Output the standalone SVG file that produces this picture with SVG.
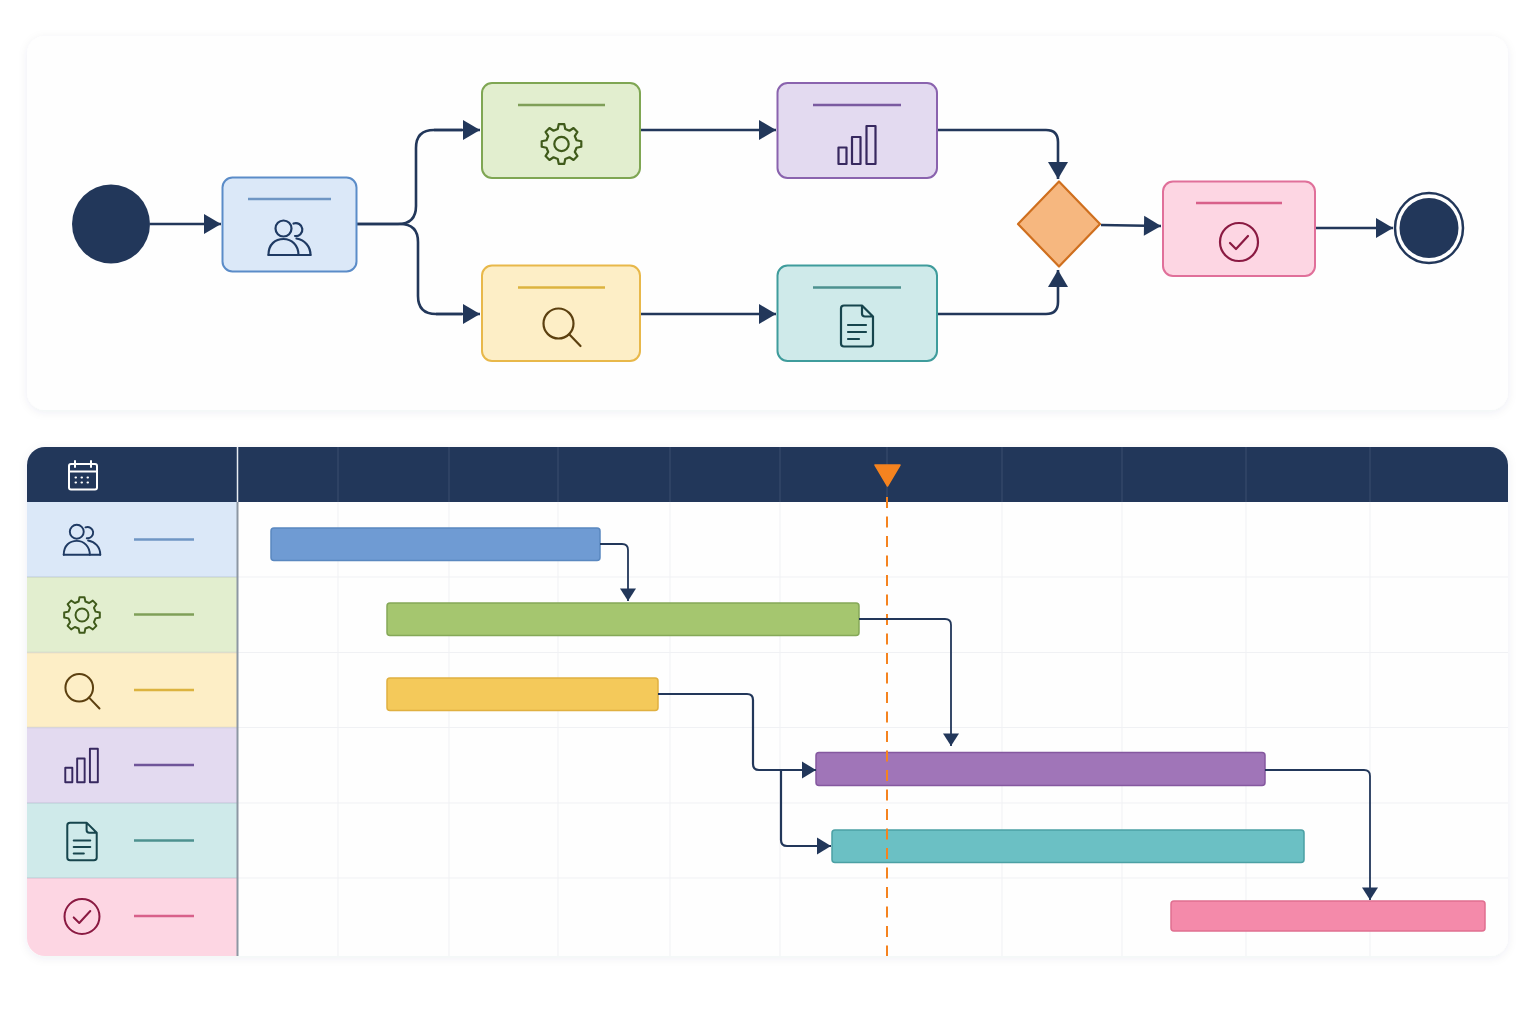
<svg xmlns="http://www.w3.org/2000/svg" xmlns:xlink="http://www.w3.org/1999/xlink" width="1536" height="1024" viewBox="0 0 1536 1024">
<style>
.panel{fill:#fefefe;filter:url(#sh)}
.ic{fill:none;stroke:currentColor;stroke-width:2.2;stroke-linejoin:round;stroke-linecap:round}
.node{stroke-width:2}
.tl{stroke-width:2.6;stroke-linecap:butt}
.ll{stroke-width:2.4}
.conn{fill:none;stroke:#22375a;stroke-width:2.6;marker-end:url(#ah)}
.plain{fill:none;stroke:#22375a;stroke-width:2.6}
.gconn{fill:none;stroke:#22375a;stroke-width:1.8;marker-end:url(#as)}
.gconnb{fill:none;stroke:#22375a;stroke-width:2.2;marker-end:url(#ah2)}
.grid{stroke:#f0f1f4;stroke-width:1}
.hgrid{stroke:#3a4f6e;stroke-width:1}
.bar{stroke-width:1.5}
.blue{fill:#dbe8f8;stroke:#5b8cc8;color:#1f3a63}
.green{fill:#e2eecf;stroke:#7fa653;color:#3f5a1a}
.yellow{fill:#fdeec6;stroke:#e8b84a;color:#5c4010}
.purple{fill:#e3daf0;stroke:#8a63ae;color:#37285f}
.teal{fill:#cfeaea;stroke:#3f9c9c;color:#17454d}
.pink{fill:#fdd6e3;stroke:#e0709a;color:#8a1a42}
</style>
<defs>
<filter id="sh" x="-5%" y="-10%" width="110%" height="120%"><feDropShadow dx="0" dy="2" stdDeviation="5" flood-color="#1f3a63" flood-opacity="0.07"/></filter>
<clipPath id="gc"><rect x="27" y="447" width="1481" height="509" rx="18"/></clipPath>
<marker id="ah" markerUnits="userSpaceOnUse" markerWidth="20" markerHeight="24" refX="18" refY="11" orient="auto"><path d="M1,1L18,11L1,21Z" fill="#22375a"/></marker>
<marker id="ah2" markerUnits="userSpaceOnUse" markerWidth="18" markerHeight="20" refX="15" refY="9" orient="auto"><path d="M1,0.500L15,9L1,17.500Z" fill="#22375a"/></marker>
<marker id="as" markerUnits="userSpaceOnUse" markerWidth="16" markerHeight="18" refX="13" refY="8.500" orient="auto"><path d="M0.500,0.500L13,8.500L0.500,16.500Z" fill="#22375a"/></marker>
<g id="i-users" class="ic"><circle cx="-6" cy="-9.500" r="8"/><path d="M4,-14.500a6.500,6.500 0 1 1 1.500,12.500"/><path d="M-21,17C-21,6 -14,1 -6,1C2,1 9,7 9,17"/><path d="M7,0.500C15,2 21,8 21,17"/><path d="M-21,17H21"/></g>
<g id="i-gear" class="ic"><path d="M15.04,-3.75L19.8,-2.78L19.8,2.78L15.04,3.75L13.29,7.98L15.97,12.04L12.04,15.97L7.98,13.29L3.75,15.04L2.78,19.8L-2.78,19.8L-3.75,15.04L-7.98,13.29L-12.04,15.97L-15.97,12.04L-13.29,7.98L-15.04,3.75L-19.8,2.78L-19.8,-2.78L-15.04,-3.75L-13.29,-7.98L-15.97,-12.04L-12.04,-15.97L-7.98,-13.29L-3.75,-15.04L-2.78,-19.8L2.78,-19.8L3.75,-15.04L7.98,-13.29L12.04,-15.97L15.97,-12.04L13.29,-7.98Z"/><circle r="7.200"/></g>
<g id="i-search" class="ic"><circle cx="-3" cy="-3.500" r="15"/><path d="M7.700,7.200L19,19"/></g>
<g id="i-bars" class="ic"><rect x="-19" y="2.500" width="8" height="16.500"/><rect x="-5.500" y="-8" width="8.500" height="27"/><rect x="9" y="-19" width="9" height="38"/></g>
<g id="i-doc" class="ic"><path d="M-16,-17.500a3,3 0 0 1 3,-3H5L16,-9.500V17.500a3,3 0 0 1 -3,3H-13a3,3 0 0 1 -3,-3ZM5,-20.500V-12.500a3,3 0 0 0 3,3H16M-9,-1H9M-9,6H9M-9,13H2"/></g>
<g id="i-check" class="ic"><circle r="19"/><path d="M-9,1L-3,7L9,-6"/></g>
</defs>
<rect width="1536" height="1024" fill="#ffffff"/>
<rect class="panel" x="27" y="36" width="1481" height="374" rx="18"/>
<rect class="panel" x="27" y="447" width="1481" height="509" rx="18"/>

<g id="flow-connectors">
<path class="conn" d="M150,224H221"/>
<path class="plain" d="M357,224H398Q416,224 416,206V148Q416,130 434,130H462"/>
<path class="conn" d="M434,130H480"/>
<path class="plain" d="M357,224H400Q418,224 418,242V296Q418,314 436,314H462"/>
<path class="conn" d="M436,314H480"/>
<path class="conn" d="M640,130H776"/>
<path class="conn" d="M640,314H776"/>
<path class="conn" d="M937,130H1046Q1058,130 1058,142V179"/>
<path class="conn" d="M937,314H1046Q1058,314 1058,302V270"/>
<path class="conn" d="M1101,225L1161,226"/>
<path class="conn" d="M1315,228H1393"/>
</g>

<g id="start"><ellipse cx="111" cy="224" rx="39" ry="39.500" fill="#22375a"/></g>
<g id="task-users"><rect class="node blue" x="222.500" y="177.500" width="134" height="94" rx="10"/><path class="tl" stroke="#6f96c4" d="M248,199H331"/><use href="#i-users" x="289.500" y="238" style="color:#1f3a63"/></g>
<g id="task-gear"><rect class="node green" x="482" y="83" width="158" height="95" rx="10"/><path class="tl" stroke="#7f9f58" d="M518,105H605"/><use href="#i-gear" x="561.500" y="144" style="color:#3f5a1a"/></g>
<g id="task-search"><rect class="node yellow" x="482" y="265.500" width="158" height="95.500" rx="10"/><path class="tl" stroke="#dcb33f" d="M518,287.500H605"/><use href="#i-search" x="561.500" y="327" style="color:#5c4010"/></g>
<g id="task-bars"><rect class="node purple" x="777.500" y="83" width="159.500" height="95" rx="10"/><path class="tl" stroke="#7a5aa0" d="M813,105H901"/><use href="#i-bars" x="857.500" y="145" style="color:#37285f"/></g>
<g id="task-doc"><rect class="node teal" x="777.500" y="265.500" width="159.500" height="95.500" rx="10"/><path class="tl" stroke="#4d918f" d="M813,287.500H901"/><use href="#i-doc" x="857" y="326" style="color:#17454d"/></g>
<g id="gateway"><path d="M1059,181.500L1100,224L1059,266.500L1018,224Z" fill="#f6b77f" stroke="#cf6f1e" stroke-width="2.200" stroke-linejoin="round"/></g>
<g id="task-check"><rect class="node pink" x="1163" y="181.500" width="152" height="94.500" rx="10"/><path class="tl" stroke="#d8608a" d="M1196,203H1282"/><use href="#i-check" x="1239" y="242" style="color:#8a1a42"/></g>
<g id="end"><ellipse cx="1429" cy="228" rx="34" ry="35" fill="#ffffff" stroke="#22375a" stroke-width="2.500"/><ellipse cx="1429" cy="228" rx="29.500" ry="30" fill="#22375a"/></g>

<g id="gantt-grid">
<path class="grid" d="M238,577H1508M238,652.500H1508M238,727.500H1508M238,803H1508M238,878H1508M338,502V956M449,502V956M558,502V956M670,502V956M780,502V956M1002,502V956M1122,502V956M1246,502V956M1370,502V956"/>
</g>

<g id="gantt-header" clip-path="url(#gc)">
<rect x="27" y="447" width="1481" height="55" fill="#22375a"/>
<path class="hgrid" d="M338,447V502M449,447V502M558,447V502M670,447V502M780,447V502M887,447V502M1002,447V502M1122,447V502M1246,447V502M1370,447V502"/>
<path d="M237.500,447V502" stroke="#e8ecf2" stroke-width="1.500"/>
<g id="calendar" fill="none" stroke="#ffffff" stroke-width="2" stroke-linecap="round" stroke-linejoin="round"><rect x="69" y="464" width="28" height="25.500" rx="2"/><path d="M69,471.500H97M75,461V467M91,461V467"/><path stroke-width="2" stroke-dasharray="0.500 5.500" d="M75.500,477.500H92M75.500,482.500H92"/></g>
</g>

<g id="gantt-rows" clip-path="url(#gc)">
<g id="row-users"><rect x="27" y="502" width="210" height="75" fill="#dbe8f8"/><path class="ll" stroke="#6f96c4" d="M134,539.500H194"/><use href="#i-users" transform="translate(82,540) scale(.87)" style="color:#1f3a63"/></g>
<g id="row-gear"><rect x="27" y="577" width="210" height="75.500" fill="#e2eecf"/><path class="ll" stroke="#7f9f58" d="M134,614.500H194"/><use href="#i-gear" transform="translate(82,615) scale(.9)" style="color:#3f5a1a"/></g>
<g id="row-search"><rect x="27" y="652.500" width="210" height="75" fill="#fdeec6"/><path class="ll" stroke="#dcb33f" d="M134,690H194"/><use href="#i-search" transform="translate(82,691) scale(.92)" style="color:#5c4010"/></g>
<g id="row-bars"><rect x="27" y="727.500" width="210" height="75.500" fill="#e3daf0"/><path class="ll" stroke="#6f5499" d="M134,765H194"/><use href="#i-bars" transform="translate(82,765.500) scale(.88)" style="color:#37285f"/></g>
<g id="row-doc"><rect x="27" y="803" width="210" height="75" fill="#cfeaea"/><path class="ll" stroke="#4d918f" d="M134,840.500H194"/><use href="#i-doc" transform="translate(82,841.500) scale(.92)" style="color:#17454d"/></g>
<g id="row-check"><rect x="27" y="878" width="210" height="78" fill="#fdd6e3"/><path class="ll" stroke="#d8608a" d="M134,916H194"/><use href="#i-check" transform="translate(82,916.500) scale(.92)" style="color:#8a1a42"/></g>
<path d="M27,577H237M27,652.500H237M27,727.500H237M27,803H237M27,878H237" stroke="#8f9ab0" stroke-opacity=".25" stroke-width="1.500"/>
<path d="M237.500,502V956" stroke="#8d97a3" stroke-width="2"/>
</g>

<g id="gantt-bars">
<rect id="bar-blue" class="bar" x="271" y="528" width="329" height="32.500" rx="3" fill="#6f9bd3" stroke="#5a88c0"/>
<rect id="bar-green" class="bar" x="387" y="603" width="472" height="32.500" rx="3" fill="#a5c66f" stroke="#85a858"/>
<rect id="bar-yellow" class="bar" x="387" y="678" width="271" height="32.500" rx="3" fill="#f4c95a" stroke="#e0b040"/>
<rect id="bar-purple" class="bar" x="816" y="752.500" width="449" height="33" rx="3" fill="#a075b8" stroke="#85589f"/>
<rect id="bar-teal" class="bar" x="832" y="830" width="472" height="32.500" rx="3" fill="#6bc0c4" stroke="#4ba0a4"/>
<rect id="bar-pink" class="bar" x="1171" y="901" width="314" height="30" rx="3" fill="#f48aaa" stroke="#e06f90"/>
</g>

<g id="today">
<path d="M887,497V956" fill="none" stroke="#f5831f" stroke-width="2" stroke-dasharray="11 8.500"/>
<path d="M875,465H900L887.500,486Z" fill="#f5831f" stroke="#f5831f" stroke-width="1.500" stroke-linejoin="round"/>
</g>

<g id="gantt-connectors">
<path class="gconn" d="M600,544H622Q628,544 628,550V601"/>
<path class="gconn" d="M859,619H945Q951,619 951,625V746"/>
<path class="gconnb" d="M658,694H747Q753,694 753,700V764Q753,770 759,770H816"/>
<path class="gconnb" d="M781,770V840Q781,846 787,846H831"/>
<path class="gconn" d="M1265,770H1364Q1370,770 1370,776V900"/>
</g>
</svg>
